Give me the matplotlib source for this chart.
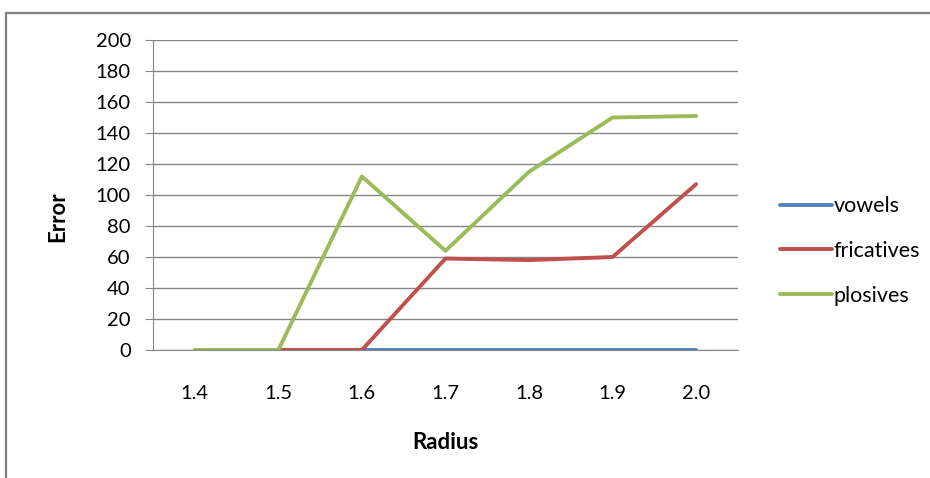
import matplotlib
matplotlib.use("Agg")
import matplotlib.pyplot as plt
from matplotlib.patches import Rectangle

radius = ["1.4", "1.5", "1.6", "1.7", "1.8", "1.9", "2.0"]
vowels = [0, 0, 0, 0, 0, 0, 0]
fricatives = [0, 0, 0, 59, 58, 60, 107]
plosives = [0, 0, 112, 64, 115, 150, 151]

plt.rcParams['font.family'] = ['Lato', 'DejaVu Sans']

fig = plt.figure(figsize=(9.3, 4.78), dpi=100)
ax = fig.add_axes([0.1645, 0.2678, 0.629, 0.6485])

x = range(len(radius))
ax.plot(x, vowels, color='#4F81BD', lw=2.8, label='vowels', solid_capstyle='round')
ax.plot(x, fricatives, color='#C0504D', lw=2.8, label='fricatives', solid_capstyle='round')
ax.plot(x, plosives, color='#9BBB59', lw=2.8, label='plosives', solid_capstyle='round')

ax.set_xlim(-0.5, len(radius) - 0.5)
ax.set_ylim(0, 200)
ax.set_yticks(range(0, 201, 20))
ax.set_xticks(list(x))
ax.set_xticklabels(radius)
ax.grid(axis='y', color='#868686', lw=1)
ax.set_axisbelow(True)
for s in ['top', 'right']:
    ax.spines[s].set_visible(False)
ax.spines['left'].set_color('#868686')
ax.spines['bottom'].set_color('#868686')
ax.tick_params(axis='y', length=6, color='#868686', labelsize=14.5, pad=10)
ax.tick_params(axis='x', length=0, labelsize=14.5, pad=25)

ax.set_ylabel('Error', fontsize=16, fontweight='bold')
ax.yaxis.set_label_coords(-0.145, 0.43)
ax.set_xlabel('Radius', fontsize=16, fontweight='bold', labelpad=22)

ax.legend(loc='center left', bbox_to_anchor=(0.818, 0.475), bbox_transform=fig.transFigure,
          frameon=False, fontsize=15.5, handlelength=2.4, handletextpad=0.1, labelspacing=1.15)

fig.patches.append(Rectangle((6 / 930, -0.1), 1.2, 1 - 13 / 478 + 0.1, transform=fig.transFigure,
                             fill=False, edgecolor='#808080', lw=1.6))

fig.savefig('out.png', dpi=100)
